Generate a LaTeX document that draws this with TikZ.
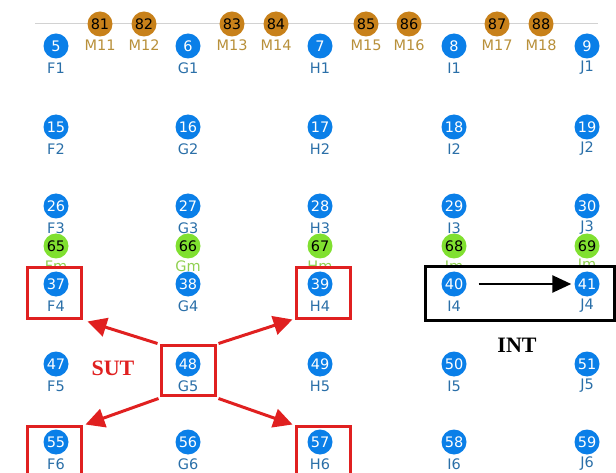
\documentclass[tikz,border=0pt]{standalone}
\usepackage{fontspec}
\setmainfont{DejaVu Sans}
\newfontfamily\serifbold{Liberation Serif}
\usetikzlibrary{arrows.meta,calc}
\definecolor{cblue}{HTML}{0A7FE8}
\definecolor{clab}{HTML}{2A6FA8}
\definecolor{corange}{HTML}{C8811A}
\definecolor{corlab}{HTML}{B8903A}
\definecolor{cgreen}{HTML}{80E030}
\definecolor{cgrlab}{HTML}{90D050}
\definecolor{cred}{HTML}{E02020}
\tikzset{
  bluedot/.style={circle, fill=cblue, text=white, inner sep=0pt, minimum size=25pt, font=\fontsize{14.5}{14.5}\selectfont},
  bluelab/.style={text=clab, inner sep=0pt, font=\fontsize{14.5}{14.5}\selectfont},
  orangedot/.style={circle, fill=corange, text=black, inner sep=0pt, minimum size=25pt, font=\fontsize{14.5}{14.5}\selectfont},
  orangelab/.style={text=corlab, inner sep=0pt, font=\fontsize{14.5}{14.5}\selectfont},
  greendot/.style={circle, fill=cgreen, text=black, inner sep=0pt, minimum size=25pt, font=\fontsize{14.5}{14.5}\selectfont},
  greenlab/.style={text=cgrlab, inner sep=0pt, font=\fontsize{14.5}{14.5}\selectfont},
  redbox/.style={draw=cred, fill=white, line width=3pt, minimum width=54pt, minimum height=50pt, inner sep=0pt},
  blackbox/.style={draw=black, fill=white, line width=3pt, minimum width=189pt, minimum height=53pt, inner sep=0pt},
  redarrow/.style={draw=cred, line width=3pt, -{Triangle[length=19pt,width=19pt]}},
  blackarrow/.style={draw=black, line width=2.5pt, -{Triangle[length=19pt,width=17pt]}},
  biglabel/.style={font=\serifbold\bfseries\fontsize{22}{22}\selectfont, inner sep=0pt}
}
\begin{document}
\begin{tikzpicture}[x=1pt,y=-1pt]
\useasboundingbox (0,0) rectangle (616,473);
% top gray line
\coordinate (gl) at (35,24);
\coordinate (gr) at (598,24);
\draw[gray!35, line width=1pt] (gl) -- (gr);
% orange row
\foreach \n/\x [count=\i from 11] in {81/100,82/144,83/232,84/276,85/366,86/409,87/497,88/541} {
  \node[orangedot] (n\n) at (\x,24) {\n};
  \node[orangelab] (l\n) at (\x,45) {M\i};
}
% green row
\foreach \n/\c/\x in {65/F/56,66/G/188,67/H/320,68/I/454,69/J/587} {
  \node[greendot] (n\n) at (\x,246) {\n};
  \node[greenlab] (l\n) at (\x,266) {\c m};
}
% boxes
\node[redbox] (bF4) at (54,293) {};
\node[redbox] (bH4) at (323,293) {};
\node[redbox] (bG5) at (188,370) {};
\node[redbox] (bF6) at (54,451) {};
\node[redbox] (bH6) at (323,451) {};
\node[blackbox] (bINT) at (519.5,293.5) {};
% blue grid
\foreach \r/\y/\base in {1/46/4,2/127/14,3/206/25,4/284/36,5/364/46,6/442/54} {
  \foreach \c/\x [count=\i] in {F/56,G/188,H/320,I/454,J/587} {
    \pgfmathtruncatemacro\n{\base+\i}
    \node[bluedot] (n\n) at (\x,\y) {\n};
    \node[bluelab] (l\n) at (\x,\y+22) {\c\r};
  }
}
% arrows
\draw[redarrow] ($(bG5.north west)+(-2,0)$) -- ($(bF4.south east)+(5,2)$);
\draw[redarrow] ($(bG5.north east)+(2,0)$) -- ($(bH4.south west)+(-2,0)$);
\draw[redarrow] ($(bG5.south west)+(-1,2)$) -- ($(bF6.north east)+(3,0)$);
\draw[redarrow] ($(bG5.south east)+(2,2)$) -- ($(bH6.north west)+(-2,0)$);
\draw[blackarrow, shorten <=12pt, shorten >=3pt] (n40.east) -- (n41.west);
% labels
\node[biglabel, text=cred] (sut) at (113,368) {SUT};
\node[biglabel, text=black] (int) at (517,345) {INT};
\end{tikzpicture}
\end{document}
